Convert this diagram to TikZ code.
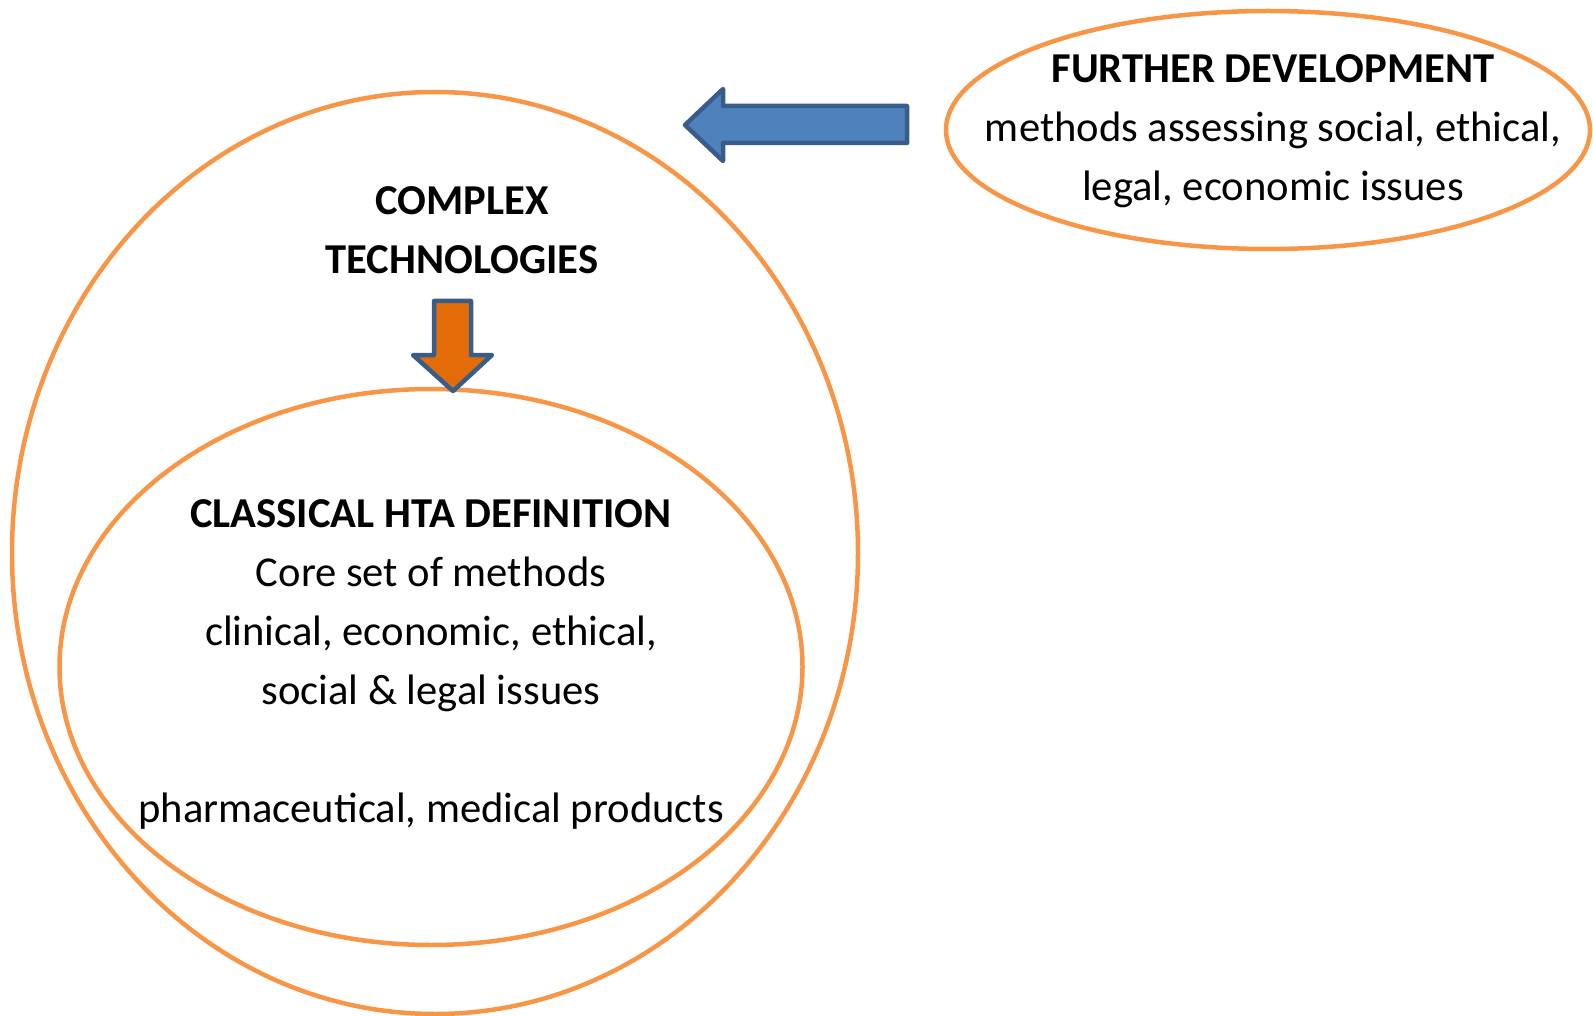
\documentclass[tikz,border=0pt]{standalone}
\usepackage{fontspec}
\setmainfont{Carlito}
\usetikzlibrary{shapes.geometric}
\definecolor{ringorange}{HTML}{F79646}
\definecolor{arrowblue}{HTML}{4F81BD}
\definecolor{arrowedge}{HTML}{385D8A}
\definecolor{arroworange}{HTML}{E36C09}
\tikzset{
  ring/.style={draw=ringorange, line width=4.5pt, ellipse, inner sep=0pt},
  txt/.style={anchor=base, inner sep=0pt, font=\fontsize{42.6}{59}\selectfont},
  btxt/.style={txt, font=\fontsize{42.6}{59}\selectfont\bfseries},
  blockarrow/.style={draw=arrowedge, line width=4.5pt, line join=round}
}
\begin{document}
\begin{tikzpicture}[x=1pt,y=-1pt]
\useasboundingbox (0,0) rectangle (1593,1016);
% ellipses
\node[ring, minimum width=846pt, minimum height=922pt] (outer) at (435,553) {};
\node[ring, minimum width=743pt, minimum height=556pt] (inner) at (431,667) {};
\node[ring, minimum width=644pt, minimum height=238pt] (further) at (1268,130) {};
% blue arrow pointing left
\filldraw[blockarrow, fill=arrowblue]
  (685,125) -- (723,89) -- (723,106) -- (907,106) -- (907,143) -- (723,143) -- (723,161) -- cycle;
% orange arrow pointing down
\filldraw[blockarrow, fill=arroworange]
  (434,301) -- (471,301) -- (471,355) -- (492,355) -- (453,391) -- (413,355) -- (434,355) -- cycle;
% texts
\node[btxt] (f1) at (1273,83) {FURTHER DEVELOPMENT};
\node[txt] (f2) at (1273,142) {methods assessing social, ethical,};
\node[txt] (f3) at (1273,201) {legal, economic issues};
\node[btxt] (c1) at (462,215) {COMPLEX};
\node[btxt] (c2) at (462,274) {TECHNOLOGIES};
\node[btxt] (h1) at (431,527) {CLASSICAL HTA DEFINITION};
\node[txt] (h2) at (431,586) {Core set of methods};
\node[txt] (h3) at (431,645) {clinical, economic, ethical,};
\node[txt] (h4) at (431,704) {social \& legal issues};
\node[txt] (h5) at (431,822) {pharmaceutical, medical products};
\end{tikzpicture}
\end{document}
